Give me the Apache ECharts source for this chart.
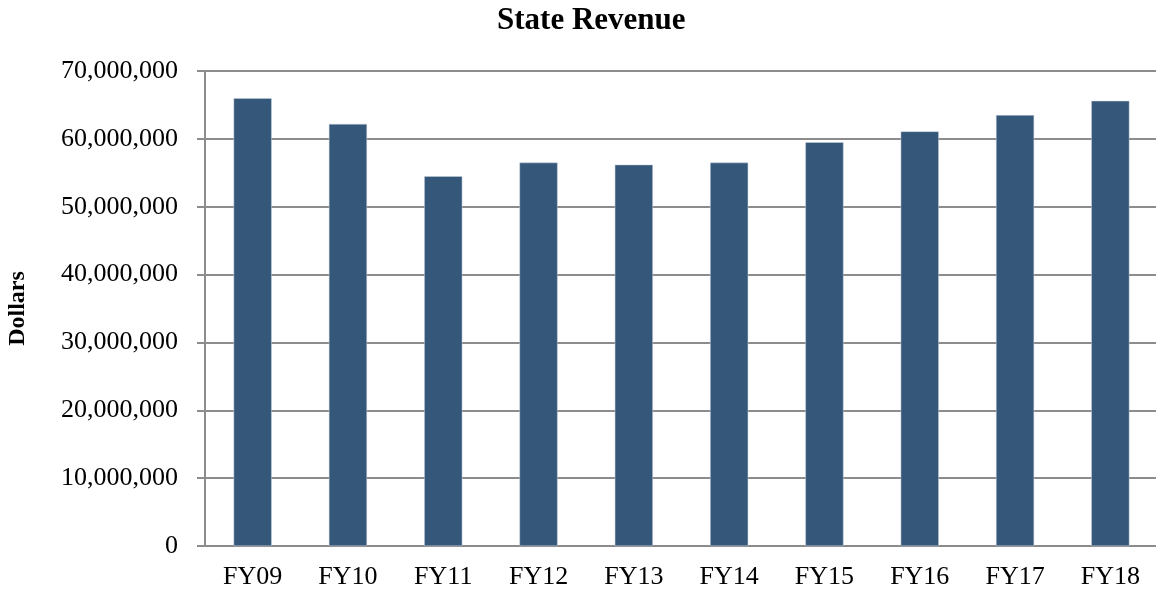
<!DOCTYPE html>
<html>
<head>
<meta charset="utf-8">
<script src="https://cdn.jsdelivr.net/npm/echarts@6/dist/echarts.min.js"></script>
<style>
  html, body { margin: 0; padding: 0; background: #fff; }
  #main { width: 1156px; height: 589px; }
</style>
</head>
<body>
<div id="main"></div>
<script>
var years = ['FY09', 'FY10', 'FY11', 'FY12', 'FY13', 'FY14', 'FY15', 'FY16', 'FY17', 'FY18']
var revenue = [66000000, 62200000, 54500000, 56500000, 56200000, 56500000, 59500000, 61100000, 63500000, 65600000]

var serif = '"Liberation Serif", "Times New Roman", serif'
var gray = '#8c8c8c'

var myChart = echarts.init(document.getElementById('main'))
var option = {
  animation: false,
  title: {
    text: 'State Revenue',
    left: 492,
    top: 0,
    textStyle: { fontFamily: serif, fontWeight: 'bold', fontSize: 31, color: '#000' }
  },
  grid: { left: 205, right: -2, top: 71, bottom: 43, containLabel: false, outerBoundsMode: 'none' },
  xAxis: {
    type: 'category',
    data: years,
    axisLine: { lineStyle: { color: gray, width: 2 } },
    axisTick: { length: 7, lineStyle: { color: gray, width: 2 } },
    axisLabel: { fontFamily: serif, fontSize: 26, color: '#000', margin: 18 }
  },
  yAxis: {
    type: 'value',
    min: 0,
    max: 70000000,
    interval: 10000000,
    name: 'Dollars',
    nameLocation: 'middle',
    nameGap: 175,
    nameTextStyle: { fontFamily: serif, fontWeight: 'bold', fontSize: 24, color: '#000' },
    axisLine: { show: true, lineStyle: { color: gray, width: 2 } },
    axisTick: { show: true, length: 8, lineStyle: { color: gray, width: 2 } },
    axisLabel: {
      fontFamily: serif, fontSize: 26, color: '#000', margin: 27,
      formatter: function (v) { return v.toLocaleString('en-US') }
    },
    splitLine: { lineStyle: { color: gray, width: 2 } }
  },
  series: [
    {
      name: 'State Revenue',
      type: 'bar',
      data: revenue,
      barWidth: '40%',
      itemStyle: { color: '#355779', borderColor: '#c9d3df', borderWidth: 0.5 }
    }
  ]
}
myChart.setOption(option)
</script>
</body>
</html>
